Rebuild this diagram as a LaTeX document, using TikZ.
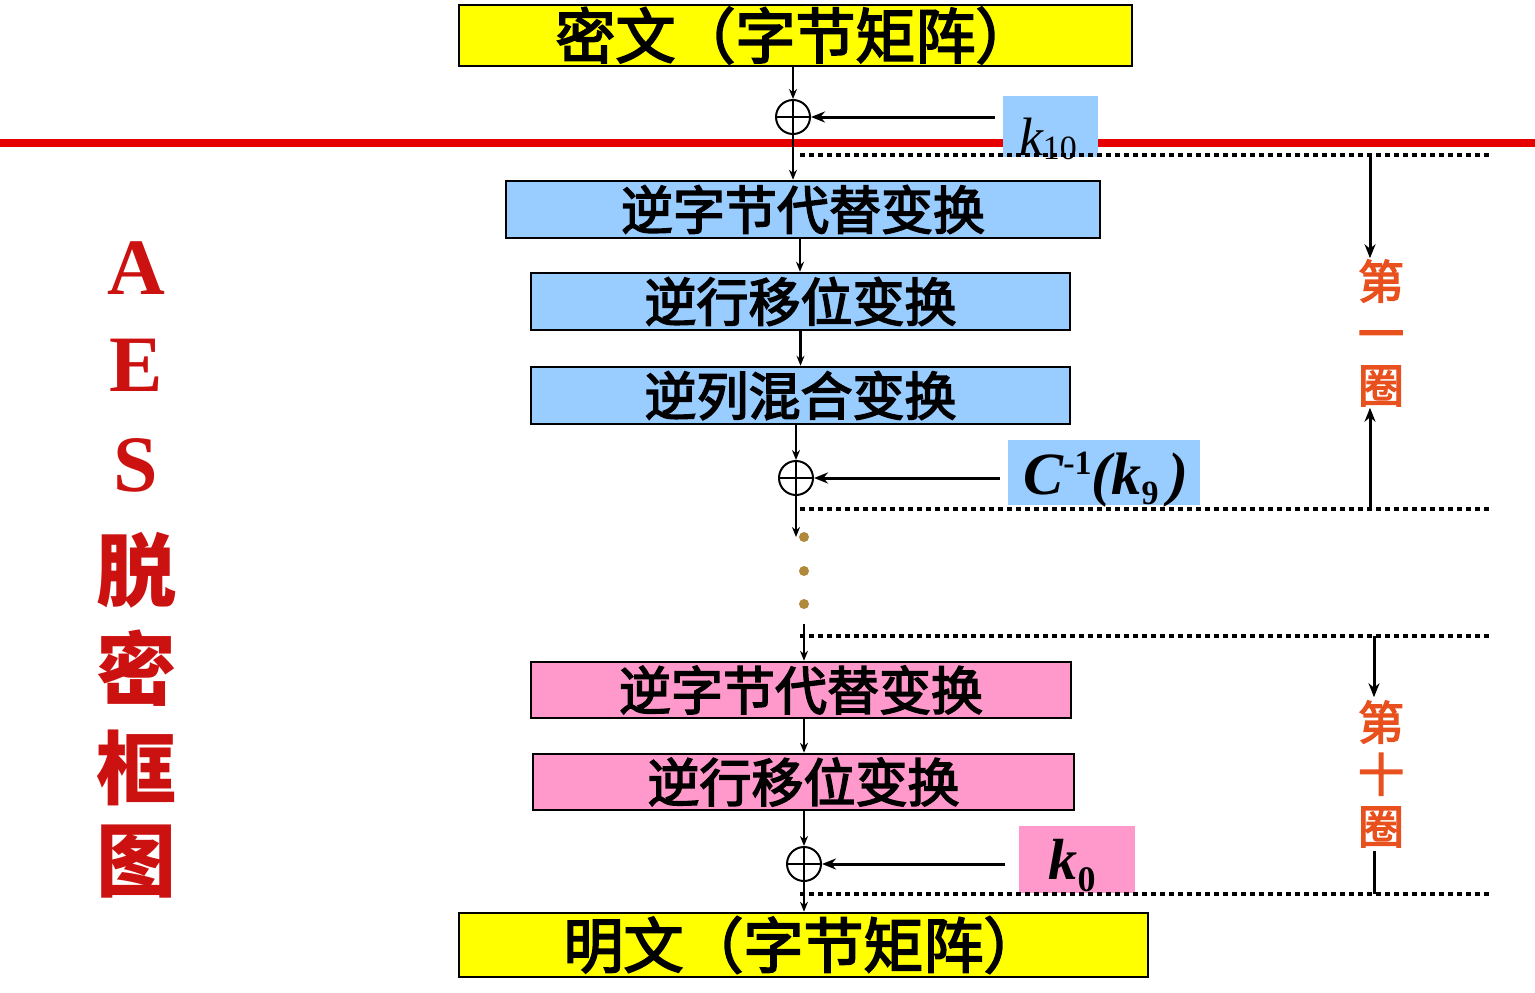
\documentclass[tikz,border=0pt]{standalone}
\usepackage{fontspec}
\setmainfont{Liberation Serif}
\newfontfamily\cjk{Noto Sans CJK SC}
\newfontfamily\cjkm[FakeBold=3]{Noto Sans CJK SC}
\usetikzlibrary{arrows.meta,calc}
\definecolor{boxyellow}{HTML}{FFFF00}
\definecolor{boxblue}{HTML}{99CCFF}
\definecolor{boxpink}{HTML}{FF99CC}
\definecolor{titlered}{HTML}{CC1111}
\definecolor{roundred}{HTML}{E8501E}
\definecolor{dotgold}{HTML}{B08A3A}
\definecolor{linered}{HTML}{E60000}
\begin{document}
\begin{tikzpicture}[x=1pt,y=-1pt,
  stagebox/.style={draw=black, line width=2.5pt, inner sep=0pt, font={\cjkm\fontsize{52}{54}\selectfont}},
  endbox/.style={stagebox, fill=boxyellow, font={\cjkm\fontsize{60}{60}\selectfont}},
  bluebox/.style={stagebox, fill=boxblue},
  pinkbox/.style={stagebox, fill=boxpink},
  keybox/.style={inner sep=0pt},
  xor/.style={circle, draw=black, line width=2pt, minimum size=34pt, inner sep=0pt,
    path picture={\draw[line width=2pt] (path picture bounding box.north) -- (path picture bounding box.south)
      (path picture bounding box.west) -- (path picture bounding box.east);}},
  flow/.style={draw=black, line width=2.4pt, -{Stealth[length=10pt,width=8pt]}},
  keyarrow/.style={draw=black, line width=3pt, -{Stealth[length=14pt,width=11pt]}},
  sep/.style={draw=black, line width=4.5pt, dash pattern=on 4.5pt off 4.5pt},
  roundlabel/.style={text=roundred, align=center, font={\cjkm\fontsize{46}{52}\selectfont}},
  titlechar/.style={text=titlered, font={\bfseries\fontsize{80}{80}\selectfont}},
  titlecjk/.style={text=titlered, font={\cjk\bfseries\fontsize{80}{80}\selectfont}},
  golddot/.style={circle, fill=dotgold, minimum size=10pt, inner sep=0pt}
]
\useasboundingbox (0,0) rectangle (1535,993);
\fill[white] (0,0) rectangle (1535,993);

% red separator line
\draw[linered, line width=8pt] (0,143) -- (1535,143);

% boxes
\node[endbox, minimum width=673pt, minimum height=61pt] (top) at (795.5,35.5) {密文（字节矩阵）};
\node[bluebox, minimum width=594pt, minimum height=57pt] (b1) at (803,209.5) {逆字节代替变换};
\node[bluebox, minimum width=539pt, minimum height=57pt] (b2) at (800.5,301.5) {逆行移位变换};
\node[bluebox, minimum width=539pt, minimum height=57pt] (b3) at (800.5,395.5) {逆列混合变换};
\node[pinkbox, minimum width=540pt, minimum height=56pt] (b4) at (801,690) {逆字节代替变换};
\node[pinkbox, minimum width=541pt, minimum height=56pt] (b5) at (803.5,782) {逆行移位变换};
\node[endbox, minimum width=689pt, minimum height=64pt] (bot) at (803.5,945) {明文（字节矩阵）};

% xor nodes
\node[xor] (x1) at (793,117) {};
\node[xor] (x2) at (796,478) {};
\node[xor] (x3) at (804,864) {};

% key boxes
\node[keybox, fill=boxblue, minimum width=95pt, minimum height=61pt] (k10) at (1050.5,126.5) {};
\node[anchor=base, font={\itshape\fontsize{54}{54}\selectfont}] (k10t) at (1048,155) {\textit{k}\raisebox{-4pt}{\fontsize{34}{34}\selectfont\upshape 10}};
\node[keybox, fill=boxblue, minimum width=192pt, minimum height=65pt] (c9) at (1104,472.5) {};
\node[anchor=base, font={\bfseries\itshape\fontsize{60}{60}\selectfont}] (c9t) at (1106,494) {C\raisebox{20pt}{\fontsize{34}{34}\selectfont\upshape -1}(k\raisebox{-10pt}{\fontsize{34}{34}\selectfont\upshape 9}\,)};
\node[keybox, fill=boxpink, minimum width=116pt, minimum height=67pt] (k0) at (1077,859.5) {};
\node[anchor=base, font={\bfseries\itshape\fontsize{58}{58}\selectfont}] (k0t) at (1072,879) {k\raisebox{-12pt}{\fontsize{36}{36}\selectfont\upshape 0}};

% round separators (dotted)
\coordinate (s1a) at (800,155);  \coordinate (s1b) at (1492,155);
\coordinate (s2a) at (800,509);  \coordinate (s2b) at (1492,509);
\coordinate (s3a) at (800,636);  \coordinate (s3b) at (1492,636);
\coordinate (s4a) at (800,894);  \coordinate (s4b) at (1492,894);
\draw[sep] (s1a) -- (s1b);
\draw[sep] (s2a) -- (s2b);
\draw[sep] (s3a) -- (s3b);
\draw[sep] (s4a) -- (s4b);

% key arrows
\draw[keyarrow] ([xshift=-8pt]x1 -| k10.west) -- (x1.east);
\draw[keyarrow] ([xshift=-8pt]x2 -| c9.west) -- (x2.east);
\draw[keyarrow] ([xshift=-14pt]x3 -| k0.west) -- (x3.east);

% flow
\coordinate (c12) at (800,0);
\coordinate (c45) at (804,0);
\draw[flow] (x1 |- top.south) -- (x1.north);
\draw[flow] (x1.south) -- (x1 |- b1.north);
\draw[flow] (c12 |- b1.south) -- (c12 |- b2.north);
\draw[flow] (b2.south) -- (b2.south |- b3.north);
\draw[flow] (x2 |- b3.south) -- (x2.north);
\coordinate (dend) at (796,537);
\draw[flow] (x2.south) -- (dend);
\node[golddot] (d1) at (804,537) {};
\node[golddot] (d2) at (804,571) {};
\node[golddot] (d3) at (804,604) {};
\coordinate (rstart) at (804,624);
\draw[flow] (rstart) -- (rstart |- b4.north);
\draw[flow] (c45 |- b4.south) -- (c45 |- b5.north);
\draw[flow] (x3 |- b5.south) -- (x3.north);
\draw[flow] (x3.south) -- (x3 |- bot.north);

% round labels
\node[roundlabel] (L1) at (1381,333) {第\\一\\圈};
\node[roundlabel] (L10) at (1381,774) {第\\十\\圈};
\draw[keyarrow] ([xshift=-11pt]L1.north |- s1a) -- ([xshift=-11pt,yshift=-2pt]L1.north);
\draw[keyarrow] ([xshift=-11pt]L1.south |- s2a) -- ([xshift=-11pt,yshift=2pt]L1.south);
\draw[keyarrow] ([xshift=-7pt]L10.north |- s3a) -- ([xshift=-7pt]L10.north);
\draw[line width=3pt] ([xshift=-7pt]L10.south) -- ([xshift=-7pt]L10.south |- s4a);

% title
\node[titlechar] (tA) at (136,268) {A};
\node[titlechar] (tE) at (136,365) {E};
\node[titlechar] (tS) at (136,465) {S};
\node[titlecjk] (t4) at (136,570) {脱};
\node[titlecjk] (t5) at (136,668) {密};
\node[titlecjk] (t6) at (136,768) {框};
\node[titlecjk] (t7) at (136,862) {图};
\end{tikzpicture}
\end{document}
